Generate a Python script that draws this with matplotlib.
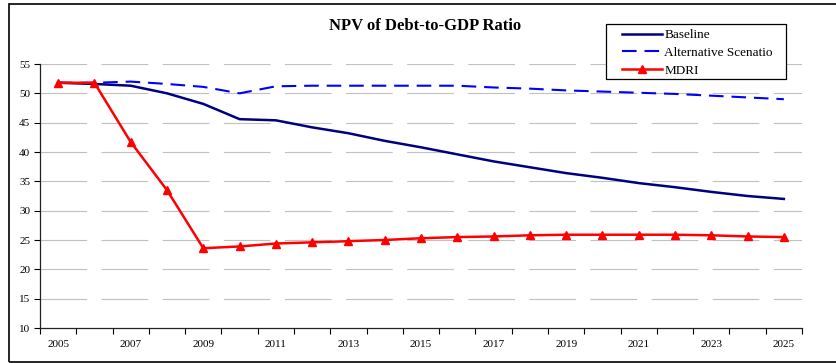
import matplotlib.pyplot as plt
from matplotlib.patches import Rectangle
import numpy as np

plt.rcParams['font.family'] = ['Liberation Serif', 'DejaVu Serif']

# NPV of debt-to-GDP ratio, in percent
years = list(range(2005, 2026))
baseline = [51.8, 51.6, 51.3, 50.0, 48.2, 45.6, 45.4, 44.2, 43.2, 41.9, 40.8,
            39.6, 38.4, 37.4, 36.4, 35.6, 34.7, 34.0, 33.2, 32.5, 32.0]
alternative = [51.8, 51.8, 52.0, 51.6, 51.1, 50.0, 51.2, 51.3, 51.3, 51.3, 51.3,
               51.3, 51.0, 50.8, 50.5, 50.3, 50.1, 49.9, 49.6, 49.3, 49.0]
mdri = [51.8, 51.8, 41.7, 33.5, 23.6, 23.9, 24.4, 24.6, 24.8, 25.0, 25.3,
        25.5, 25.6, 25.8, 25.9, 25.9, 25.9, 25.9, 25.8, 25.6, 25.5]
y_ticks = [10, 15, 20, 25, 30, 35, 40, 45, 50, 55]

fig = plt.figure(figsize=(8.37, 3.63), dpi=100)
ax = fig.add_axes([40 / 837, 1 - 328 / 363, 762 / 837, 264 / 363])

x = np.arange(len(years))
ax.plot(x, baseline, color='#000080', lw=1.8, label='Baseline', zorder=3)
ax.plot(x, alternative, color='#0000ff', lw=1.5, linestyle=(0, (7, 3.8)),
        label='Alternative Scenatio', zorder=3)
ax.plot(x, mdri, color='#ff0000', lw=1.8, marker='^', markersize=6,
        label='MDRI', zorder=4)

ax.set_xlim(-0.5, len(years) - 0.5)
ax.set_ylim(10, 55)

# category axis: tick marks between years, every other year labelled
ax.set_xticks(np.arange(len(years) + 1) - 0.5)
ax.set_xticklabels([])
ax.set_xticks(x[::2], minor=True)
ax.set_xticklabels([str(y) for y in years[::2]], minor=True)
ax.tick_params(axis='x', which='major', direction='out', length=4, width=0.8)
ax.tick_params(axis='x', which='minor', length=0, pad=8.5, labelsize=8)

ax.set_yticks(y_ticks)
ax.tick_params(axis='y', direction='out', length=4, width=0.8, pad=3, labelsize=8)

for v in y_ticks[1:]:
    ax.axhline(v, color='#c0c0c0', lw=0.8, linestyle=(0, (42, 13)), zorder=1)

for side in ['top', 'right']:
    ax.spines[side].set_visible(False)
for side in ['left', 'bottom']:
    ax.spines[side].set_linewidth(0.9)
    ax.spines[side].set_color('#222222')

fig.text(425 / 837, 1 - 26 / 363, 'NPV of Debt-to-GDP Ratio', ha='center',
         va='center', fontsize=12, fontweight='bold')

# legend entries without frame; the box is drawn separately so it can be wider
leg = ax.legend(loc='upper left', bbox_to_anchor=(618 / 837, 1 - 25 / 363),
                bbox_transform=fig.transFigure, fontsize=9.5, frameon=False,
                borderaxespad=0, handlelength=3.0, labelspacing=0.42,
                borderpad=0.3, handletextpad=0.2)
leg.set_zorder(6)
box = Rectangle((606 / 837, 1 - 79 / 363), 180 / 837, 55 / 363, fill=True,
                facecolor='white', edgecolor='#000000', lw=0.9,
                transform=fig.transFigure, clip_on=False, zorder=5)
ax.add_patch(box)

# outer chart border
fig.patches.append(Rectangle((9 / 837, 1 / 363), 1.0, 358 / 363, fill=False,
                             edgecolor='#000000', lw=1.2,
                             transform=fig.transFigure, figure=fig))

fig.savefig('out.png', dpi=100)
